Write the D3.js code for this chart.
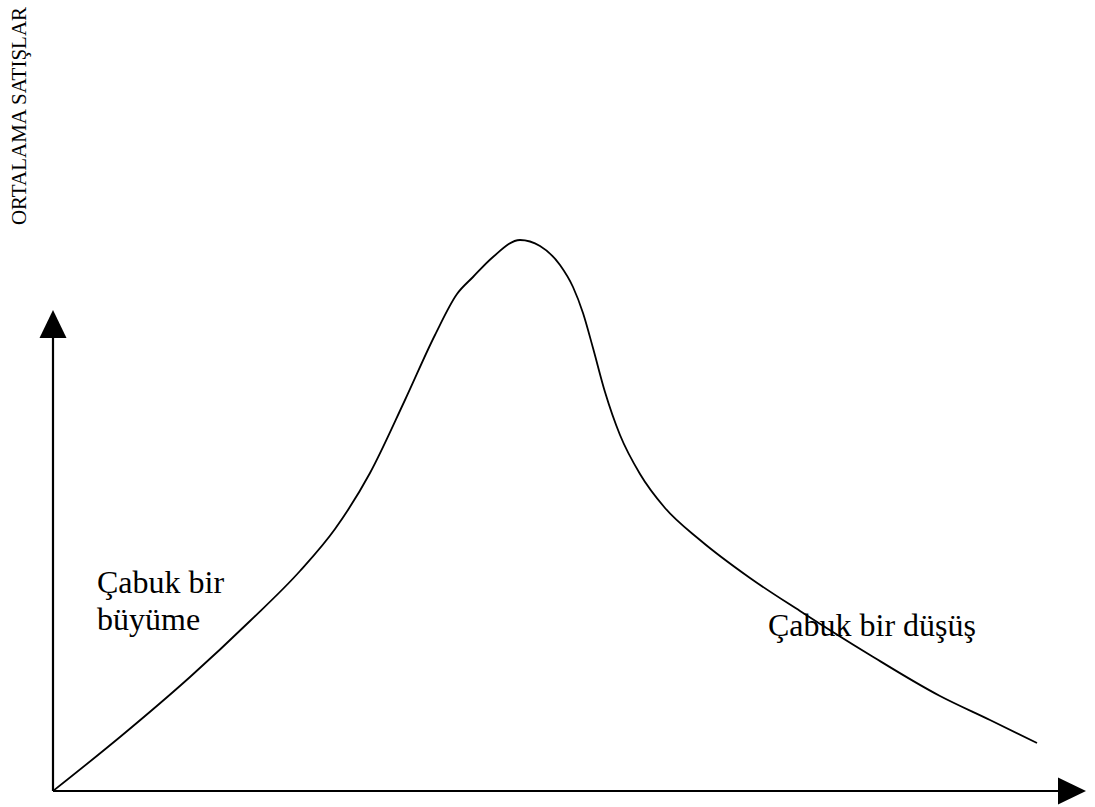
<!DOCTYPE html>
<html><head><meta charset="utf-8">
<script src="https://d3js.org/d3.v7.min.js"></script>
<style>html,body{margin:0;padding:0;background:#fff;} svg text{font-family:'Liberation Serif',Tinos,'Noto Serif','DejaVu Serif','Times New Roman',Times,serif;}</style>
</head><body>
<script>
const timeVals  = [0,67,137,197,247,282,317,352,382,404,420,440,467,487,507,520,530,540,552,567,587,612,647,697,747,817,887,937,984];
const salesVals = [0,54,114,170,220,262,318,391,456,497,514,534,551,545,526,504,478,443,399,356,317,283,251,213,180,136,95,71,48];
const yAxisLabel = "ORTALAMA SATIŞLAR";
const growthLabel = ["Çabuk bir", "büyüme"];
const declineLabel = "Çabuk bir düşüş";

const W = 1095, H = 807;
const svg = d3.select("body").append("svg").attr("width", W).attr("height", H);
const x = d3.scaleLinear().domain([0, 1000]).range([53, 1053]);
const y = d3.scaleLinear().domain([0, 600]).range([791, 191]);

// axes
svg.append("line").attr("x1", x(0)).attr("y1", y(0)).attr("x2", 1060).attr("y2", y(0)).attr("stroke", "#000").attr("stroke-width", 2.2);
svg.append("line").attr("x1", x(0)).attr("y1", y(0)).attr("x2", x(0)).attr("y2", 336).attr("stroke", "#000").attr("stroke-width", 2.2);
// arrowheads
svg.append("path").attr("d", `M1058,${y(0)-13.5} L1086,${y(0)} L1058,${y(0)+13.5} Z`).attr("fill", "#000");
svg.append("path").attr("d", `M${x(0)-13.5},338 L${x(0)},310 L${x(0)+13.5},338 Z`).attr("fill", "#000");

const data = timeVals.map((t, i) => ({t, s: salesVals[i]}));
const line = d3.line().x(d => x(d.t)).y(d => y(d.s)).curve(d3.curveMonotoneX);
svg.append("path").datum(data).attr("d", line).attr("fill", "none").attr("stroke", "#000").attr("stroke-width", 1.8);

svg.append("text").attr("transform", "translate(26,116) rotate(-90)").attr("text-anchor", "middle")
  .attr("font-size", 21).text(yAxisLabel);

svg.selectAll("text.g").data(growthLabel).enter().append("text").attr("class","g")
  .attr("x", 97).attr("y", (d, i) => 593 + i * 37)
  .attr("font-size", 32).text(d => d);
svg.append("text").attr("x", 768).attr("y", 636)
  .attr("font-size", 32).text(declineLabel);
</script>
</body></html>
